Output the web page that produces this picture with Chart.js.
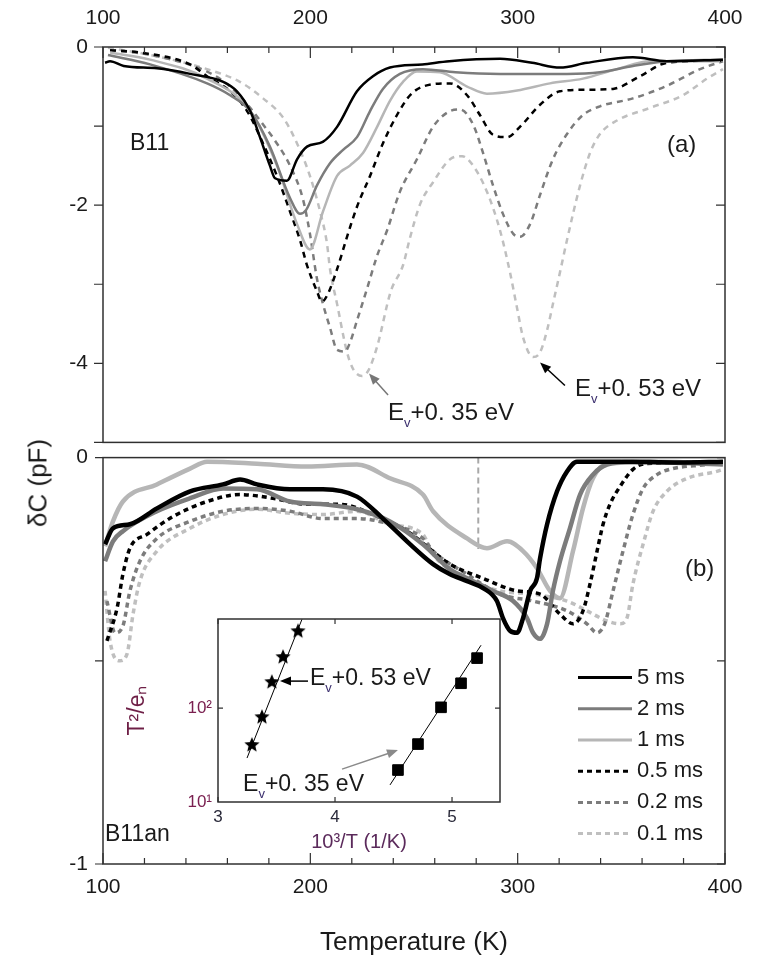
<!DOCTYPE html>
<html>
<head>
<meta charset="utf-8">
<script src="https://cdn.jsdelivr.net/npm/chart.js@4.4.0/dist/chart.umd.min.js"></script>
<style>
  body { margin: 0; background: #fff; }
  #wrap { position: relative; width: 761px; height: 966px; font-family: "Liberation Sans", Arial, sans-serif; }
  canvas { position: absolute; }
  #ytitle { position: absolute; left: 38px; top: 483px; transform: translate(-50%, -50%) rotate(-90deg);
            font-size: 26px; color: #1a1a1a; white-space: nowrap; }
</style>
</head>
<body>
<div id="wrap">
  <canvas id="chartA" width="761" height="470" style="left:0;top:0"></canvas>
  <canvas id="chartB" width="761" height="536" style="left:0;top:430px"></canvas>
  <canvas id="chartIn" width="400" height="260" style="left:120px;top:600px"></canvas>
  <div id="ytitle">δC (pF)</div>
</div>
<script>
// 凡例と軸目盛
const legendLabels = ['5 ms', '2 ms', '1 ms', '0.5 ms', '0.2 ms', '0.1 ms'];
const tempTicks = [100, 200, 300, 400];
const ticksA = [0, -2, -4];
const ticksB = [0, -1];

// (a) B11  [T (K), dC (pF)]
const a5ms = [[101,-0.20],[103.4,-0.18],[110,-0.24],[126,-0.27],[142,-0.34],[158,-0.44],[164.6,-0.56],[171,-0.81],[175.7,-1.14],[180.5,-1.50],[183,-1.66],[188.7,-1.69],[193.6,-1.42],[198.4,-1.26],[206,-1.20],[212.9,-1.01],[222.5,-0.56],[230.2,-0.37],[238.4,-0.26],[254,-0.22],[267,-0.18],[291.5,-0.15],[307,-0.20],[320.4,-0.26],[333.4,-0.20],[355.6,-0.13],[372,-0.18],[399,-0.16]];
const a2ms = [[102.4,-0.10],[122.7,-0.22],[150.2,-0.46],[161.3,-0.61],[171,-0.81],[180.5,-1.26],[190.2,-1.91],[195,-2.11],[198,-2.06],[203.2,-1.75],[209.5,-1.47],[215.8,-1.30],[222.5,-1.14],[228.8,-0.81],[235,-0.53],[243.2,-0.34],[254.3,-0.28],[270,-0.32],[291.5,-0.34],[323.8,-0.34],[339.7,-0.32],[355.6,-0.24],[372,-0.18],[399,-0.16]];
const a1ms = [[103.4,-0.07],[122.7,-0.16],[150.2,-0.40],[171,-0.81],[183.9,-1.50],[193.6,-2.24],[199.8,-2.56],[206.1,-2.08],[212.9,-1.63],[219.1,-1.50],[225.4,-1.34],[232.2,-1.01],[238.4,-0.68],[244.7,-0.44],[251.4,-0.31],[262.5,-0.32],[275.6,-0.50],[285.2,-0.59],[299.7,-0.55],[315.6,-0.46],[331.5,-0.40],[347.9,-0.28],[363.8,-0.18],[397.6,-0.18]];
const a05ms = [[103.4,-0.04],[117.8,-0.07],[142,-0.22],[150.2,-0.37],[161.3,-0.56],[169.5,-0.81],[177.2,-1.22],[183.9,-1.63],[190.2,-2.08],[195,-2.44],[198.4,-2.76],[203.2,-3.09],[205.6,-3.22],[208.5,-3.12],[212.9,-2.81],[217.7,-2.40],[222.5,-2.02],[228.8,-1.63],[235,-1.22],[241.8,-0.86],[248.1,-0.61],[254.3,-0.50],[267.4,-0.46],[275.6,-0.61],[281.8,-0.86],[288.1,-1.11],[294.9,-1.14],[301.1,-1.01],[310.8,-0.73],[320.4,-0.56],[333.4,-0.54],[346,-0.53],[359,-0.37],[372,-0.20],[399,-0.17]];
const a02ms = [[103.4,-0.04],[122.7,-0.10],[150.2,-0.31],[161.3,-0.50],[171,-0.77],[177.2,-0.98],[183.9,-1.22],[190.2,-1.50],[196.5,-1.93],[199.8,-2.36],[203.2,-2.93],[206.1,-3.25],[209.5,-3.55],[212.9,-3.83],[216.7,-3.85],[219.1,-3.74],[222.5,-3.46],[227.3,-3.06],[232.2,-2.64],[237,-2.32],[243.2,-1.83],[251.4,-1.42],[259.2,-1.01],[267.4,-0.81],[272.2,-0.79],[278.5,-0.98],[283.3,-1.34],[288.1,-1.75],[292.9,-2.11],[297.8,-2.36],[301.1,-2.40],[306,-2.24],[310.8,-1.87],[317,-1.42],[323.8,-1.10],[331.5,-0.86],[339.7,-0.75],[355.6,-0.65],[372,-0.49],[388,-0.28],[399,-0.18]];
const a01ms = [[102.4,-0.01],[122.7,-0.10],[150.2,-0.28],[166,-0.44],[177.2,-0.65],[186.8,-0.89],[193.6,-1.22],[199.8,-1.63],[204.7,-2.08],[208,-2.48],[209.5,-2.81],[212.9,-3.25],[217.7,-3.86],[220.6,-4.07],[224.9,-4.16],[227.8,-4.10],[232.2,-3.79],[238.8,-3.09],[244.7,-2.76],[248,-2.42],[252.9,-1.99],[259.2,-1.71],[267.4,-1.42],[273.2,-1.38],[278.5,-1.50],[285.2,-1.83],[291.5,-2.32],[296.3,-2.85],[299.7,-3.30],[302.6,-3.67],[307.4,-3.92],[310.8,-3.86],[314.2,-3.58],[317,-3.25],[320.4,-2.85],[323.8,-2.44],[330.1,-1.75],[334.9,-1.34],[339.7,-1.10],[347.9,-0.93],[363.8,-0.77],[379.7,-0.61],[391.3,-0.40],[399,-0.28]];

// (b) B11an
const b5ms = [[101,-0.213],[104.8,-0.174],[113,-0.164],[126,-0.125],[142,-0.083],[157.9,-0.066],[166.1,-0.054],[174.3,-0.066],[190.2,-0.078],[206.1,-0.078],[222.5,-0.096],[235,-0.150],[246.6,-0.206],[259.2,-0.262],[267.4,-0.287],[275.6,-0.304],[283.3,-0.321],[290,-0.353],[292.9,-0.395],[296.3,-0.426],[299.7,-0.431],[302.6,-0.395],[306,-0.328],[309.3,-0.297],[310.8,-0.248],[314.2,-0.164],[319,-0.083],[323.8,-0.034],[328.6,-0.010],[349.4,-0.010],[378.3,-0.012],[399,-0.010]];
const b2ms = [[101,-0.255],[104.8,-0.206],[109.6,-0.181],[126,-0.132],[142,-0.100],[157.9,-0.076],[174.3,-0.078],[190.2,-0.108],[206.1,-0.115],[222.5,-0.127],[238.4,-0.157],[254.3,-0.213],[267.4,-0.275],[275.6,-0.297],[288.1,-0.328],[297.8,-0.353],[304.5,-0.395],[307.4,-0.431],[310.8,-0.446],[314.2,-0.409],[317,-0.328],[320.4,-0.255],[325.2,-0.174],[330.1,-0.091],[336.3,-0.042],[343.1,-0.017],[355.6,-0.010],[399,-0.017]];
const b1ms = [[101,-0.218],[104.8,-0.157],[109.6,-0.108],[126,-0.066],[142,-0.027],[150.2,-0.010],[174.3,-0.015],[198.4,-0.022],[222.5,-0.017],[238.4,-0.051],[254.3,-0.091],[259.2,-0.132],[275.6,-0.199],[285.2,-0.223],[294.9,-0.206],[302.6,-0.230],[309.3,-0.272],[315.6,-0.328],[320.4,-0.346],[326.7,-0.230],[331.5,-0.125],[336.3,-0.051],[343.1,-0.015],[368.7,-0.010],[399,-0.015]];
const b05ms = [[101.9,-0.451],[106.8,-0.370],[109.6,-0.287],[113,-0.223],[121.2,-0.189],[133.8,-0.145],[150.2,-0.108],[166.1,-0.091],[182,-0.100],[198.4,-0.115],[214.3,-0.115],[230.2,-0.140],[246.6,-0.181],[267.4,-0.262],[283.3,-0.297],[299.7,-0.328],[310.8,-0.336],[320.4,-0.385],[326.7,-0.409],[331.5,-0.377],[334.9,-0.311],[338.3,-0.230],[341.2,-0.164],[344.5,-0.115],[349.4,-0.071],[355.6,-0.029],[361.4,-0.015],[399,-0.010]];
const b02ms = [[101.9,-0.353],[105.8,-0.431],[109.6,-0.414],[113,-0.328],[117.8,-0.255],[126,-0.199],[142,-0.157],[157.9,-0.132],[174.3,-0.125],[190.2,-0.132],[206.1,-0.150],[222.5,-0.150],[238.4,-0.164],[254.3,-0.199],[259.2,-0.230],[275.6,-0.287],[291.5,-0.336],[307.4,-0.353],[323.8,-0.377],[333.4,-0.409],[338.3,-0.431],[342.1,-0.407],[346,-0.328],[350.8,-0.230],[355.6,-0.140],[360.5,-0.076],[367.2,-0.042],[374.9,-0.027],[391.3,-0.017],[399,-0.010]];
const b01ms = [[101,-0.328],[103.4,-0.451],[108.2,-0.500],[111.6,-0.483],[114.5,-0.385],[117.8,-0.304],[126,-0.230],[142,-0.174],[157.9,-0.140],[174.3,-0.127],[190.2,-0.137],[206.1,-0.140],[222.5,-0.132],[238.4,-0.164],[254.3,-0.189],[259.2,-0.238],[275.6,-0.297],[291.5,-0.328],[307.4,-0.336],[323.8,-0.353],[333.4,-0.377],[343.1,-0.402],[349.4,-0.409],[352.7,-0.395],[355.6,-0.311],[360.5,-0.213],[365.3,-0.132],[372,-0.083],[381.7,-0.051],[396.1,-0.034],[399,-0.029]];
const markerLine = [[281,0],[281,-0.225]];

// 挿入図 (アレニウスプロット)
const inX53 = [3.29, 3.376, 3.46, 3.556, 3.684];
const inY53 = [40.4, 80, 189, 349, 659];
const inX35 = [4.538, 4.709, 4.906, 5.077, 5.214];
const inY35 = [21.9, 41.4, 102, 184, 341];
const fit53 = [[3.248, 29.4], [3.718, 885]];
const fit35 = [[4.47, 15.2], [5.248, 468]];

const FONT = '"Liberation Sans", Arial, sans-serif';
const TEXT = '#1a1a1a';
const seriesColors = ['#000000', '#7c7c7c', '#b6b6b6', '#000000', '#7c7c7c', '#bfbfbf'];
const dashed = [false, false, false, true, true, true];

const xy = pts => pts.map(p => ({ x: p[0], y: p[1] }));

function lineSet(i, pts, width, dash) {
  return {
    label: legendLabels[i],
    data: xy(pts),
    borderColor: seriesColors[i],
    borderWidth: width,
    borderDash: dashed[i] ? dash : [],
    pointRadius: 0,
    cubicInterpolationMode: 'monotone',
    fill: false
  };
}

// 枠と内向き目盛
const framePlugin = {
  id: 'frame',
  afterDatasetsDraw(chart, args, o) {
    const { ctx, chartArea: a } = chart;
    const xs = chart.scales.x, ys = chart.scales.y;
    ctx.save();
    ctx.strokeStyle = '#303030';
    ctx.lineWidth = o.width;
    ctx.strokeRect(a.left, a.top, a.right - a.left, a.bottom - a.top);
    ctx.lineWidth = 1.2;
    ctx.beginPath();
    for (let v = xs.min; v <= xs.max + 1e-9; v += o.xStep) {
      const px = xs.getPixelForValue(v);
      const major = Math.abs(v / o.xMajor - Math.round(v / o.xMajor)) < 1e-6;
      const len = major ? o.xLong : o.xShort;
      if (o.xEdges.includes('top')) { ctx.moveTo(px, a.top); ctx.lineTo(px, a.top + len); }
      if (o.xEdges.includes('bottom')) { ctx.moveTo(px, a.bottom); ctx.lineTo(px, a.bottom - len); }
    }
    o.yTicks.forEach(v => {
      const py = ys.getPixelForValue(v);
      ctx.moveTo(a.right, py); ctx.lineTo(a.right - o.yLen, py);
      ctx.moveTo(a.left, py); ctx.lineTo(o.yOut ? a.left - o.yLen : a.left + o.yLen, py);
    });
    ctx.stroke();
    ctx.restore();
  }
};

function drawArrow(ctx, x1, y1, x2, y2, color) {
  const ang = Math.atan2(y2 - y1, x2 - x1);
  const hl = 11, hw = 4.5;
  ctx.save();
  ctx.strokeStyle = color; ctx.fillStyle = color; ctx.lineWidth = 1.5;
  ctx.beginPath();
  ctx.moveTo(x1, y1);
  ctx.lineTo(x2 - Math.cos(ang) * hl * 0.8, y2 - Math.sin(ang) * hl * 0.8);
  ctx.stroke();
  ctx.beginPath();
  ctx.moveTo(x2, y2);
  ctx.lineTo(x2 - Math.cos(ang) * hl - Math.sin(ang) * hw, y2 - Math.sin(ang) * hl + Math.cos(ang) * hw);
  ctx.lineTo(x2 - Math.cos(ang) * hl + Math.sin(ang) * hw, y2 - Math.sin(ang) * hl - Math.cos(ang) * hw);
  ctx.closePath();
  ctx.fill();
  ctx.restore();
}

// E_v + ... のラベル
function drawEv(ctx, x, y, tail, size) {
  ctx.save();
  ctx.textAlign = 'left'; ctx.textBaseline = 'alphabetic';
  ctx.fillStyle = TEXT;
  ctx.font = size + 'px ' + FONT;
  ctx.fillText('E', x, y);
  let w = ctx.measureText('E').width;
  ctx.font = Math.round(size * 0.55) + 'px ' + FONT;
  ctx.fillStyle = '#3b2f6e';
  ctx.fillText('v', x + w, y + size * 0.3);
  w += ctx.measureText('v').width;
  ctx.font = size + 'px ' + FONT;
  ctx.fillStyle = TEXT;
  ctx.fillText(tail, x + w, y);
  ctx.restore();
}

function drawText(ctx, str, x, y, size) {
  ctx.save();
  ctx.font = size + 'px ' + FONT;
  ctx.fillStyle = TEXT;
  ctx.textAlign = 'left'; ctx.textBaseline = 'middle';
  ctx.fillText(str, x, y);
  ctx.restore();
}

const notesA = {
  id: 'notesA',
  afterDraw(chart) {
    const { ctx, chartArea: a } = chart;
    const xs = chart.scales.x, ys = chart.scales.y;
    const P = (t, v) => [xs.getPixelForValue(t), ys.getPixelForValue(v)];
    drawText(ctx, 'B11', a.left + 27, a.top + 97, 23);
    drawText(ctx, '(a)', a.left + 564, a.top + 98, 24);
    let t = P(237.5, -4.40), h = P(228.3, -4.13);
    drawArrow(ctx, t[0], t[1], h[0], h[1], '#777777');
    let p = P(237.5, -4.72);
    drawEv(ctx, p[0], p[1], '+0. 35 eV', 24);
    t = P(322.8, -4.28); h = P(310.8, -3.99);
    drawArrow(ctx, t[0], t[1], h[0], h[1], '#000000');
    p = P(327.7, -4.41);
    drawEv(ctx, p[0], p[1], '+0. 53 eV', 24);
  }
};

const notesB = {
  id: 'notesB',
  afterDraw(chart) {
    const { ctx, chartArea: a } = chart;
    drawText(ctx, '(b)', a.left + 582, a.top + 112, 24);
    drawText(ctx, 'B11an', a.left + 2, a.top + 377, 23);
    // 凡例
    chart.data.datasets.slice(0, legendLabels.length).forEach((ds, i) => {
      const y = a.top + 220 + i * 31.2;
      ctx.save();
      ctx.strokeStyle = ds.borderColor;
      ctx.lineWidth = 3;
      ctx.setLineDash(dashed[i] ? [5, 4] : []);
      ctx.beginPath();
      ctx.moveTo(a.left + 475, y); ctx.lineTo(a.left + 529, y);
      ctx.stroke();
      ctx.restore();
      drawText(ctx, ds.label, a.left + 534, y, 22);
    });
  }
};

const notesIn = {
  id: 'notesIn',
  afterDraw(chart) {
    const { ctx } = chart;
    const xs = chart.scales.x, ys = chart.scales.y;
    const P = (u, v) => [xs.getPixelForValue(u), ys.getPixelForValue(v)];
    let t = P(3.769, 194), h = P(3.53, 194);
    drawArrow(ctx, t[0], t[1], h[0], h[1], '#000000');
    let p = P(3.786, 176);
    drawEv(ctx, p[0], p[1], '+0. 53 eV', 23);
    t = P(4.06, 22.4); h = P(4.538, 35.7);
    drawArrow(ctx, t[0], t[1], h[0], h[1], '#8a8a8a');
    p = P(3.214, 13.1);
    drawEv(ctx, p[0], p[1], '+0. 35 eV', 23);
  }
};

function starImage(r) {
  const c = document.createElement('canvas');
  c.width = c.height = 2 * r + 2;
  const g = c.getContext('2d');
  g.beginPath();
  for (let k = 0; k < 10; k++) {
    const rad = k % 2 ? r * 0.45 : r;
    const ang = -Math.PI / 2 + k * Math.PI / 5;
    g.lineTo(r + 1 + rad * Math.cos(ang), r + 1 + rad * Math.sin(ang));
  }
  g.closePath();
  g.fillStyle = '#000';
  g.fill();
  return c;
}

const tickFont = { family: FONT, size: 21 };

function tempAxis(position, height, padding, title) {
  return {
    type: 'linear', position, min: 100, max: 400,
    afterBuildTicks: s => { s.ticks = tempTicks.map(v => ({ value: v })); },
    afterFit: s => { s.height = height; },
    grid: { display: false, drawTicks: false },
    border: { display: false },
    ticks: { font: tickFont, color: TEXT, padding, maxRotation: 0, autoSkip: false },
    title: title
  };
}

function dcAxis(min, list) {
  return {
    type: 'linear', min, max: 0,
    afterBuildTicks: s => { s.ticks = list.map(v => ({ value: v })); },
    afterFit: s => { s.width = 103; },
    grid: { display: false, drawTicks: false },
    border: { display: false },
    ticks: { font: tickFont, color: TEXT, padding: 15 }
  };
}

const baseOpts = { responsive: false, animation: false, devicePixelRatio: 1 };

// (a)
const panelA = [a5ms, a2ms, a1ms, a05ms, a02ms, a01ms];
new Chart(document.getElementById('chartA'), {
  type: 'line',
  data: { datasets: panelA.map((pts, i) => lineSet(i, pts, 2.5, [6, 5])) },
  options: Object.assign({}, baseOpts, {
    layout: { padding: { left: 0, right: 36, top: 0, bottom: 14 } },
    plugins: {
      legend: { display: false }, tooltip: { enabled: false },
      frame: { width: 1.5, xStep: 20, xMajor: 100, xShort: 6, xLong: 11, xEdges: ['top'],
               yTicks: [0, -1, -2, -3, -4, -5], yLen: 9, yOut: true }
    },
    scales: { x: tempAxis('top', 47, 16, { display: false }), y: dcAxis(-5, ticksA) }
  }),
  plugins: [framePlugin, notesA]
});

// (b)
const panelB = [b5ms, b2ms, b1ms, b05ms, b02ms, b01ms];
const dsB = panelB.map((pts, i) => lineSet(i, pts, dashed[i] ? 3.5 : 4.5, [5, 4]));
dsB.push({ label: 'marker', data: xy(markerLine), borderColor: '#a8a8a8', borderWidth: 2,
           borderDash: [6, 4], pointRadius: 0, fill: false });
new Chart(document.getElementById('chartB'), {
  type: 'line',
  data: { datasets: dsB },
  options: Object.assign({}, baseOpts, {
    layout: { padding: { left: 0, right: 36, top: 26, bottom: 0 } },
    plugins: {
      legend: { display: false }, tooltip: { enabled: false },
      frame: { width: 1.5, xStep: 20, xMajor: 100, xShort: 6, xLong: 11, xEdges: ['bottom'],
               yTicks: [0, -0.5, -1], yLen: 8, yOut: true }
    },
    scales: {
      x: tempAxis('bottom', 102, 11, { display: true, text: 'Temperature (K)',
        font: { family: FONT, size: 26 }, color: TEXT, padding: { top: 0, bottom: 8 } }),
      y: dcAxis(-1, ticksB)
    }
  }),
  plugins: [framePlugin, notesB]
});

// 挿入図
const star = starImage(8);
new Chart(document.getElementById('chartIn'), {
  type: 'line',
  data: {
    datasets: [
      { label: 'E_v+0.53 eV', data: inX53.map((x, i) => ({ x, y: inY53[i] })), showLine: false,
        pointStyle: star, pointRadius: 8, borderColor: '#000', backgroundColor: '#000' },
      { label: 'E_v+0.35 eV', data: inX35.map((x, i) => ({ x, y: inY35[i] })), showLine: false,
        pointStyle: 'rect', pointRadius: 7.5, borderColor: '#000', backgroundColor: '#000' },
      { label: 'fit53', data: xy(fit53), borderColor: '#000', borderWidth: 1, pointRadius: 0 },
      { label: 'fit35', data: xy(fit35), borderColor: '#000', borderWidth: 1, pointRadius: 0 }
    ]
  },
  options: Object.assign({}, baseOpts, {
    layout: { padding: { left: 0, right: 20, top: 19, bottom: 0 } },
    plugins: {
      legend: { display: false }, tooltip: { enabled: false },
      frame: { width: 1.5, xStep: 1, xMajor: 1, xShort: 5, xLong: 5, xEdges: ['top', 'bottom'],
               yTicks: [100], yLen: 5, yOut: false }
    },
    scales: {
      x: {
        type: 'linear', min: 3, max: 5.41,
        afterBuildTicks: s => { s.ticks = [3, 4, 5].map(v => ({ value: v })); },
        afterFit: s => { s.height = 58; },
        grid: { display: false, drawTicks: false }, border: { display: false },
        ticks: { font: { family: FONT, size: 17 }, color: '#2a2a3a', padding: 5, maxRotation: 0 },
        title: { display: true, text: '10³/T (1/K)', font: { family: FONT, size: 20 },
                 color: '#5b2a5b', padding: { top: 0, bottom: 6 } }
      },
      y: {
        type: 'logarithmic', min: 10, max: 890,
        afterBuildTicks: s => { s.ticks = [10, 100].map(v => ({ value: v })); },
        afterFit: s => { s.width = 98; },
        grid: { display: false, drawTicks: false }, border: { display: false },
        ticks: { font: { family: FONT, size: 17 }, color: '#7a2050', padding: 6,
                 callback: v => (v === 10 ? '10¹' : '10²') },
        title: { display: true, text: 'T²/eₙ', font: { family: FONT, size: 23 },
                 color: '#6e1f46', padding: { top: 4, bottom: 0 } }
      }
    }
  }),
  plugins: [framePlugin, notesIn]
});
</script>
</body>
</html>
